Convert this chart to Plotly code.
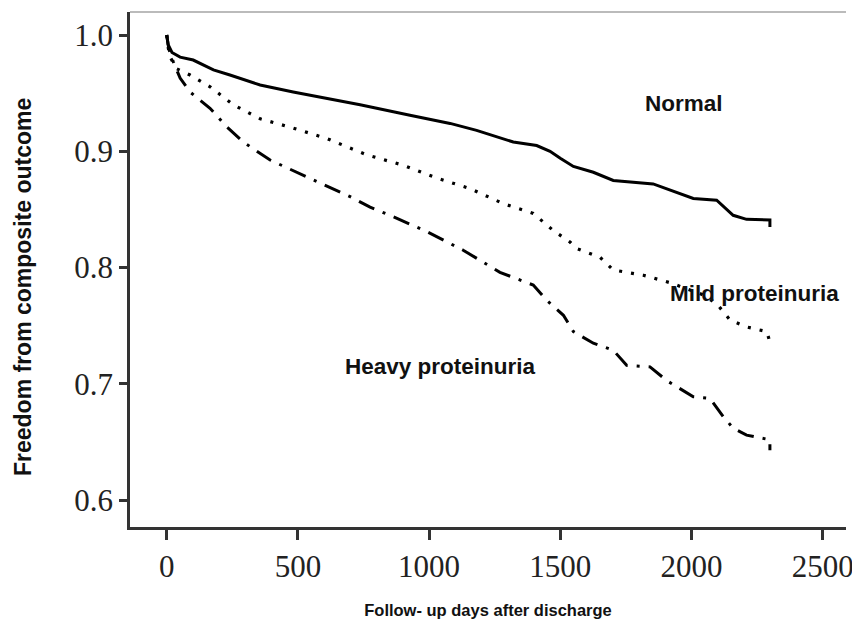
import plotly.graph_objects as go

# ---- data ----
normal_days = [0, 5, 20, 51, 101, 178, 241, 356, 482, 610, 737, 927, 1080, 1181, 1321, 1410, 1461,
               1500, 1550, 1626, 1702, 1854, 1944, 2007, 2096, 2159, 2210, 2299, 2299]
normal_surv = [1.0, 0.992, 0.985, 0.981, 0.9785, 0.970, 0.9656, 0.957, 0.951, 0.9455, 0.940, 0.931,
               0.924, 0.918, 0.908, 0.905, 0.900, 0.894, 0.887, 0.882, 0.875, 0.872, 0.865, 0.8595,
               0.858, 0.845, 0.8415, 0.841, 0.835]

mild_days = [0, 5, 13, 38, 89, 165, 254, 356, 482, 610, 762, 902, 1029, 1156, 1283, 1397, 1473,
             1537, 1562, 1651, 1702, 1816, 1919, 2040, 2096, 2147, 2210, 2287, 2299]
mild_surv = [1.0, 0.99, 0.981, 0.971, 0.9656, 0.9555, 0.94, 0.928, 0.92, 0.911, 0.897, 0.888, 0.877,
             0.868, 0.855, 0.8466, 0.832, 0.822, 0.8165, 0.809, 0.798, 0.7935, 0.787, 0.777, 0.769,
             0.755, 0.749, 0.745, 0.736]

heavy_days = [0, 8, 25, 51, 89, 165, 229, 292, 394, 546, 699, 775, 851, 991, 1130, 1270, 1397, 1448,
              1512, 1550, 1626, 1702, 1753, 1842, 1905, 2007, 2071, 2121, 2159, 2210, 2299, 2299]
heavy_surv = [1.0, 0.988, 0.977, 0.963, 0.951, 0.937, 0.921, 0.908, 0.8925, 0.877, 0.861, 0.852,
              0.845, 0.831, 0.815, 0.796, 0.785, 0.772, 0.759, 0.745, 0.735, 0.729, 0.716, 0.7147,
              0.703, 0.689, 0.6875, 0.672, 0.662, 0.656, 0.652, 0.643]

x_ticks = [0, 500, 1000, 1500, 2000, 2500]
y_ticks = [0.6, 0.7, 0.8, 0.9, 1.0]
y_tick_labels = ["0.6", "0.7", "0.8", "0.9", "1.0"]

labels = [("Normal", 1971, 0.9415, "center"),
          ("Mild proteinuria", 1910, 0.778, "left"),
          ("Heavy proteinuria", 1042, 0.7153, "center")]

fig = go.Figure()
fig.add_trace(go.Scatter(x=normal_days, y=normal_surv, mode="lines",
                         line=dict(color="#000000", width=3), showlegend=False))
fig.add_trace(go.Scatter(x=mild_days, y=mild_surv, mode="lines",
                         line=dict(color="#000000", width=3.2, dash="3px,9px"), showlegend=False))
fig.add_trace(go.Scatter(x=heavy_days, y=heavy_surv, mode="lines",
                         line=dict(color="#000000", width=3, dash="17px,9px,3px,9px"), showlegend=False))

for text, x, y, anchor in labels:
    fig.add_annotation(x=x, y=y, text="<b>" + text + "</b>", showarrow=False, xanchor=anchor,
                       yanchor="middle",
                       font=dict(family="Liberation Sans", size=22.5, color="#111111"))

fig.add_annotation(xref="paper", yref="paper", x=-0.1494, y=0.466,
                   text="<b>Freedom from composite outcome</b>",
                   textangle=-90, showarrow=False, xanchor="center", yanchor="middle",
                   font=dict(family="Liberation Sans", size=23, color="#111111"))

# light top frame line
fig.add_shape(type="line", xref="paper", yref="paper", x0=0, x1=1, y0=1, y1=1,
              line=dict(color="#bbbbbb", width=2))

# the page body has an 8px default margin, so the figure is 8px smaller and margins offset
fig.update_layout(
    width=852, height=613,
    margin=dict(l=122, r=14, t=4, b=94),
    paper_bgcolor="white", plot_bgcolor="white",
    xaxis=dict(range=[-140, 2589], tickvals=x_ticks, showgrid=False, zeroline=False,
               automargin=False,
               showline=True, linecolor="#333333", linewidth=2.5,
               ticks="outside", ticklen=10, tickwidth=2.5, tickcolor="#333333",
               tickfont=dict(family="Liberation Serif", size=31, color="#222222"),
               title=dict(text="<b>Follow- up days after discharge</b>", standoff=22,
                          font=dict(family="Liberation Sans", size=16.5, color="#111111"))),
    yaxis=dict(range=[0.577, 1.0198], tickvals=y_ticks, ticktext=y_tick_labels, showgrid=False,
               automargin=False,
               zeroline=False, showline=True, linecolor="#333333", linewidth=2.5,
               ticks="outside", ticklen=8, tickwidth=2.5, tickcolor="#333333",
               tickfont=dict(family="Liberation Serif", size=31, color="#222222")),
)

fig.write_html("out.html")
